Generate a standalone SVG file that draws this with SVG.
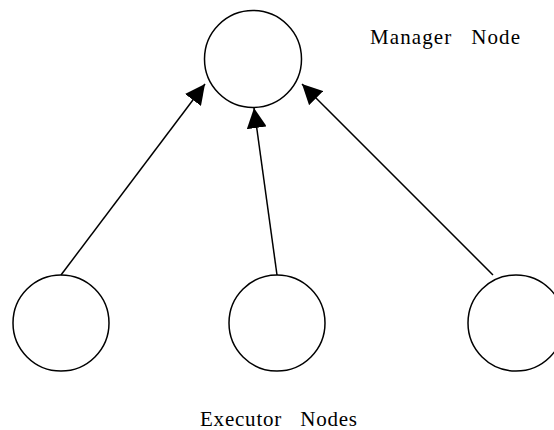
<svg xmlns="http://www.w3.org/2000/svg" width="554" height="430" viewBox="0 0 554 430">
<style>
.node{fill:#fff;stroke:#000;stroke-width:1.5}
.edge{stroke:#000;stroke-width:1.5;fill:none}
.lbl{font-family:"Liberation Serif","Times New Roman",serif;font-size:21px;fill:#000}
</style>
<defs>
<marker id="arr" markerUnits="userSpaceOnUse" markerWidth="21" markerHeight="20" refX="20" refY="10" orient="auto">
<path d="M0,0 L20,10 L0,20 Z" fill="#000"/>
</marker>
</defs>
<rect width="554" height="430" fill="#fff"/>
<g id="manager"><circle class="node" cx="253" cy="59" r="48.5"/></g>
<g id="executor1"><circle class="node" cx="61" cy="323" r="48"/></g>
<g id="executor2"><circle class="node" cx="277" cy="323" r="48"/></g>
<g id="executor3"><circle class="node" cx="516" cy="323" r="48"/></g>
<g id="connectors">
<line class="edge" x1="61" y1="275" x2="205" y2="84" marker-end="url(#arr)"/>
<line class="edge" x1="277" y1="275" x2="254" y2="108" marker-end="url(#arr)"/>
<line class="edge" x1="493" y1="275" x2="302" y2="84" marker-end="url(#arr)"/>
</g>
<text class="lbl" x="370" y="44" xml:space="preserve" textLength="150">Manager   Node</text>
<text class="lbl" x="200" y="426" xml:space="preserve" textLength="157">Executor   Nodes</text>
</svg>
